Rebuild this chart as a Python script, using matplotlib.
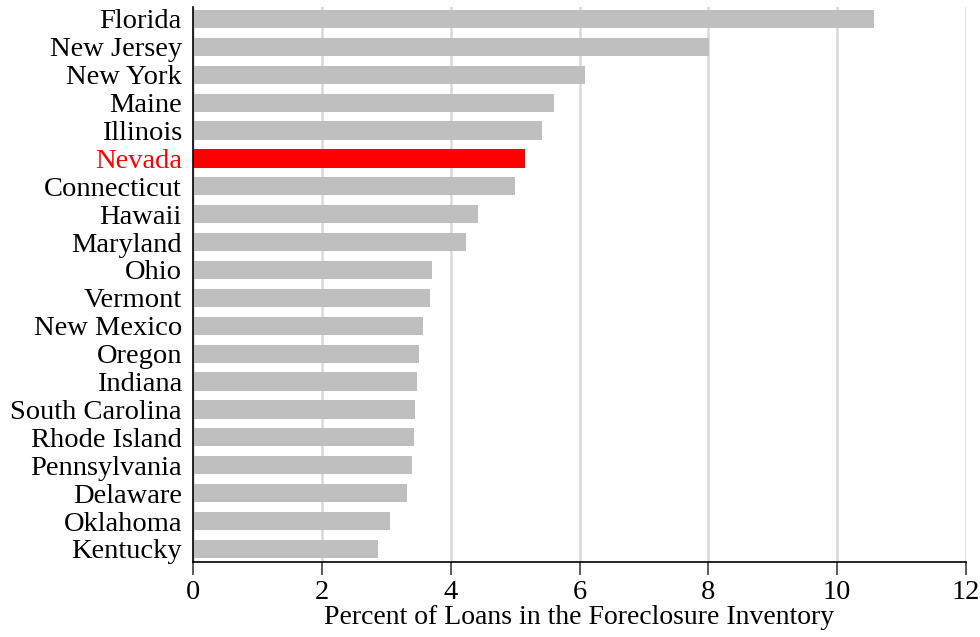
import matplotlib
matplotlib.use("Agg")
import matplotlib.pyplot as plt

states = ["Florida", "New Jersey", "New York", "Maine", "Illinois", "Nevada",
          "Connecticut", "Hawaii", "Maryland", "Ohio", "Vermont", "New Mexico",
          "Oregon", "Indiana", "South Carolina", "Rhode Island", "Pennsylvania",
          "Delaware", "Oklahoma", "Kentucky"]
values = [10.57, 8.01, 6.09, 5.61, 5.42, 5.16, 5.00, 4.43, 4.24, 3.71, 3.68,
          3.57, 3.51, 3.48, 3.45, 3.43, 3.40, 3.32, 3.06, 2.87]
highlight = "Nevada"
xticks = [0, 2, 4, 6, 8, 10, 12]
xlabel = "Percent of Loans in the Foreclosure Inventory"

plt.rcParams['font.family'] = ['Liberation Serif', 'DejaVu Serif']

fig = plt.figure(figsize=(9.8, 6.37), dpi=100)
ax = fig.add_axes([193/980, 1 - 562/637, (966 - 193)/980, (562 - 7)/637])

colors = ["#ff0000" if s == highlight else "#bfbfbf" for s in states]
pos = list(range(len(states)))
ax.barh(pos, values, height=0.65, color=colors, zorder=2)

ax.set_ylim(len(states) - 1 + 0.47, -0.43)
ax.set_xlim(0, 12)
ax.set_xticks(xticks)
ax.set_xticklabels([str(t) for t in xticks], fontsize=20.5)
ax.set_yticks(pos)
ax.set_yticklabels(states, fontsize=20.5)
for lbl in ax.get_yticklabels():
    if lbl.get_text() == highlight:
        lbl.set_color("#ff0000")

ax.xaxis.grid(True, color="#d9d9d9", linewidth=1.8, zorder=0)
ax.set_axisbelow(True)
for s in ["top", "right"]:
    ax.spines[s].set_visible(False)
ax.spines["left"].set_color("black")
ax.spines["bottom"].set_color("black")
ax.spines["left"].set_linewidth(1.2)
ax.spines["bottom"].set_linewidth(1.2)
ax.tick_params(axis="y", length=0, pad=8)
ax.tick_params(axis="x", length=9, width=1.2, color="#404040", pad=4)
ax.set_xlabel(xlabel, fontsize=20, labelpad=0)

fig.savefig("out.png", dpi=100)
